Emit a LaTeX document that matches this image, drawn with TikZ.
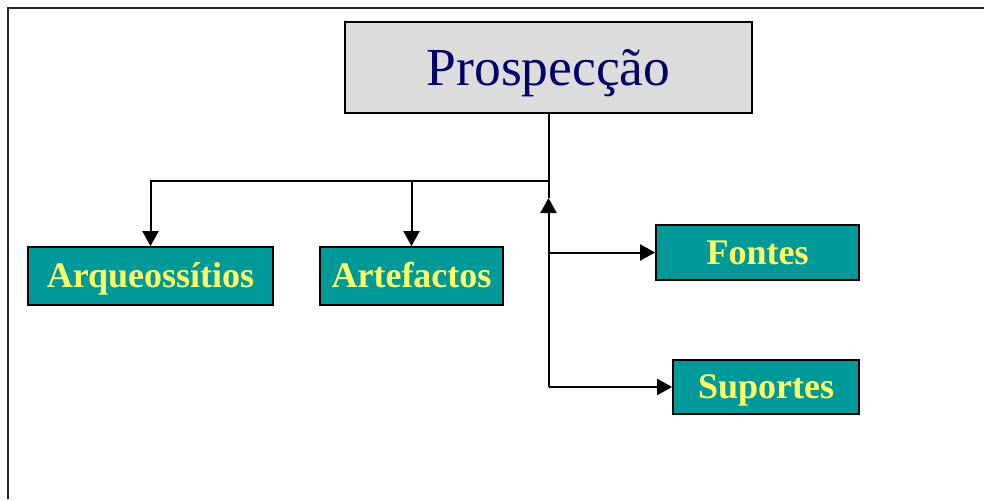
\documentclass[tikz,border=0pt]{standalone}
\usepackage{fontspec}
\setmainfont{Liberation Serif}
\usetikzlibrary{arrows.meta}
\definecolor{tealbox}{HTML}{009999}
\definecolor{yel}{HTML}{FFFF66}
\definecolor{navy}{HTML}{000066}
\definecolor{greybox}{HTML}{DCDCDC}
\begin{document}
\begin{tikzpicture}[x=1pt,y=-1pt,
  subbox/.style={draw=black,line width=1.8pt,fill=tealbox,inner sep=0pt,
    text=yel,font=\fontsize{36}{40}\selectfont\bfseries,
    text height=23.8pt,text depth=0pt},
  conn/.style={line width=2pt,black},
  arr/.style={conn,-{Triangle[length=15pt,width=16pt]}}]
\useasboundingbox (0,0) rectangle (984,499);
\fill[white] (0,0) rectangle (984,499);
\draw[line width=2.2pt,black!85] (8,499) -- (8,8) -- (984,8);
\node[draw=black,line width=1.8pt,fill=greybox,inner sep=0pt,
  minimum width=407pt,minimum height=91pt,text=navy,
  text height=35.4pt,text depth=0pt,
  font=\fontsize{53.5}{60}\selectfont] (P) at (548.5,67.5) {Prospecção};
\node[subbox,minimum width=245pt,minimum height=58pt] (Arq) at (150.5,276) {Arqueossítios};
\node[subbox,minimum width=183pt,minimum height=58pt] (Art) at (411.5,276) {Artefactos};
\node[subbox,minimum width=203pt,minimum height=55pt] (Fon) at (757.5,252.5) {Fontes};
\node[subbox,minimum width=186pt,minimum height=54pt] (Sup) at (766,387) {Suportes};
\coordinate (J) at (548.5,180.5);
\coordinate (JA) at (411.5,180.5);
\coordinate (T) at (548.5,198);
\coordinate (F) at (548.5,252.5);
\coordinate (B) at (548.5,387);
\draw[conn] (P.south) -- (J);
\draw[arr] (J) -| (Arq.north);
\draw[arr] (JA) -- (Art.north);
\draw[conn] (J) -- (T);
\draw[arr] (B) -- (T);
\draw[arr] (F) -- (Fon.west);
\draw[arr] (B) -- (Sup.west);
\end{tikzpicture}
\end{document}
